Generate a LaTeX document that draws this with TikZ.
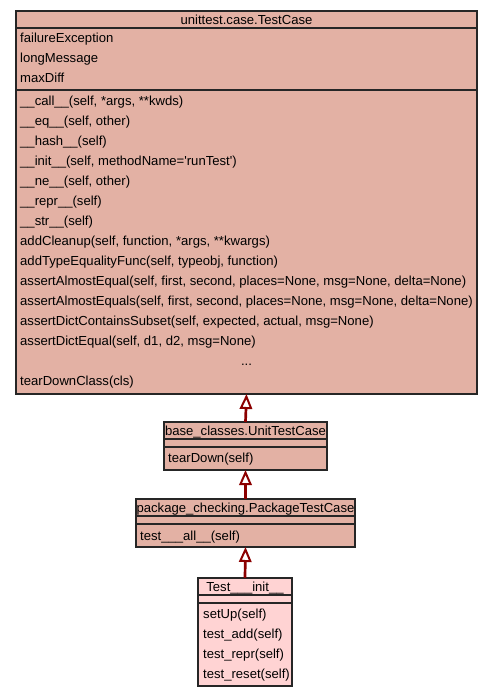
\documentclass[tikz,border=0pt]{standalone}
\usepackage{fontspec}
\setmainfont{Liberation Sans}
\usetikzlibrary{arrows.meta}
\definecolor{classfill}{RGB}{227,177,164}
\definecolor{testfill}{RGB}{255,211,211}
\definecolor{inheritred}{RGB}{139,0,0}
\begin{document}
\begin{tikzpicture}[x=1pt,y=-1pt]
            \tikzset{classbox/.style={draw=black!85,line width=1.2pt,fill=classfill,inner sep=0pt,outer sep=0pt},
              member/.style={anchor=west,inner sep=0pt,text height=10pt,text depth=0.5pt,font=\fontsize{13.1}{15}\selectfont},
              classname/.style={member,anchor=center},
              sepline/.style={draw=black!85,line width=1.2pt},
              inherit/.style={draw=inheritred,line width=2.7pt,-{Triangle[open,length=15pt,width=12.5pt,line width=2pt]}}};
            \useasboundingbox (0,0) rectangle (493,696);

            % unittest.case.TestCase
            \node[classbox,minimum width=461pt,minimum height=383pt] (testcase) at (246.5,202.5){};
            \draw[sepline] (16,28) -- (477,28);
            \draw[sepline] (16,90) -- (477,90);
            \node[classname] (testcasename) at (246.5,19.5){unittest.case.TestCase};
            \foreach \a [count=\i from 0] in {failureException,longMessage,maxDiff}
              \node[member] (attr\i) at (20,38+20*\i){\a};
            \foreach \m [count=\i from 0] in {{\_\_call\_\_(self, *args, **kwds)},
                {\_\_eq\_\_(self, other)},
                {\_\_hash\_\_(self)},
                {\_\_init\_\_(self, methodName=\textquotesingle runTest\textquotesingle)},
                {\_\_ne\_\_(self, other)},
                {\_\_repr\_\_(self)},
                {\_\_str\_\_(self)},
                {addCleanup(self, function, *args, **kwargs)},
                {addTypeEqualityFunc(self, typeobj, function)},
                {assertAlmostEqual(self, first, second, places=None, msg=None, delta=None)},
                {assertAlmostEquals(self, first, second, places=None, msg=None, delta=None)},
                {assertDictContainsSubset(self, expected, actual, msg=None)},
                {assertDictEqual(self, d1, d2, msg=None)}}
              \node[member] (meth\i) at (20,101+20*\i){\m};
            \node[classname] (testcasedots) at (246.5,361){...};
            \node[member] (teardownclass) at (20,381){tearDownClass(cls)};

            % base_classes.UnitTestCase
            \node[classbox,minimum width=163pt,minimum height=48pt] (unitcase) at (245.5,446){};
            \draw[sepline] (164,439) -- (327,439);
            \draw[sepline] (164,447) -- (327,447);
            \node[classname] (unitcasename) at (245.5,430.5){base\_classes.UnitTestCase};
            \node[member] (teardown) at (168,458){tearDown(self)};

            % package_checking.PackageTestCase
            \node[classbox,minimum width=219pt,minimum height=48pt] (packagecase) at (245.5,523){};
            \draw[sepline] (136,516) -- (355,516);
            \draw[sepline] (136,524) -- (355,524);
            \node[classname] (packagecasename) at (245.5,507.5){package\_checking.PackageTestCase};
            \node[member] (testall) at (140,535.5){test\_\_\_all\_\_(self)};

            % Test___init__
            \node[classbox,fill=testfill,minimum width=94pt,minimum height=108pt] (testinit) at (245,632){};
            \draw[sepline] (198,595) -- (292,595);
            \draw[sepline] (198,603) -- (292,603);
            \node[classname] (testinitname) at (245,586.5){Test\_\_\_init\_\_};
            \foreach \m [count=\i from 0] in {setUp(self),test\_add(self),test\_repr(self),test\_reset(self)}
              \node[member] (test\i) at (203,614+20*\i){\m};

            \draw[inherit] (unitcase.north) -- (testcase.south);
            \draw[inherit] (packagecase.north) -- (unitcase.south);
            \draw[inherit] (testinit.north) -- (packagecase.south);
\end{tikzpicture}
\end{document}
